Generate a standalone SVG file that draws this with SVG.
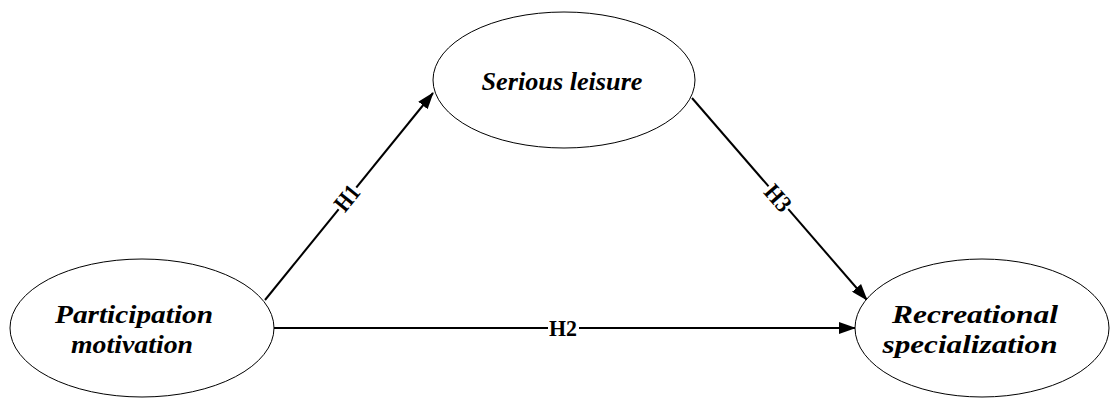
<svg xmlns="http://www.w3.org/2000/svg" width="1111" height="399" viewBox="0 0 1111 399">
<style>
.node ellipse{fill:#fff;stroke:#000;stroke-width:1}
.node text{font-family:"Liberation Serif","Times New Roman",serif;font-weight:bold;font-style:italic;font-size:26px;text-anchor:middle;fill:#000}
.edge line{stroke:#000;stroke-width:2}
.lbl{font-family:"Liberation Serif","Times New Roman",serif;font-weight:bold;font-size:24px;text-anchor:middle;dominant-baseline:central;fill:#000}
.bg{fill:#fff}
</style>
<defs>
<marker id="arr" markerWidth="17" markerHeight="12" refX="16" refY="6" orient="auto" markerUnits="userSpaceOnUse">
<path d="M0,0 L17,6 L0,12 Z" fill="#000"/>
</marker>
</defs>
<g id="connectors">
<g class="edge" id="e-h1">
<line x1="265" y1="300" x2="433" y2="93" marker-end="url(#arr)"/>
<g transform="translate(347,198) rotate(-51)"><rect class="bg" x="-14" y="-10" width="28" height="20"/><text class="lbl" x="0" y="0" textLength="26" lengthAdjust="spacingAndGlyphs">H1</text></g>
</g>
<g class="edge" id="e-h2">
<line x1="274" y1="328" x2="855" y2="328" marker-end="url(#arr)"/>
<rect class="bg" x="548" y="318" width="31" height="20"/><text class="lbl" x="563" y="328" textLength="28" lengthAdjust="spacingAndGlyphs">H2</text>
</g>
<g class="edge" id="e-h3">
<line x1="692" y1="98" x2="867" y2="300" marker-end="url(#arr)"/>
<g transform="translate(778,198) rotate(49)"><rect class="bg" x="-15" y="-10" width="30" height="20"/><text class="lbl" x="0" y="0" textLength="28" lengthAdjust="spacingAndGlyphs">H3</text></g>
</g>
</g>
<g class="node" id="n-serious">
<ellipse cx="564" cy="80" rx="131" ry="68"/>
<text x="562" y="90" textLength="161" lengthAdjust="spacingAndGlyphs">Serious leisure</text>
</g>
<g class="node" id="n-participation">
<ellipse cx="142" cy="328" rx="132" ry="69"/>
<text x="134" y="323" textLength="158" lengthAdjust="spacingAndGlyphs">Participation</text>
<text x="132" y="353" textLength="122" lengthAdjust="spacingAndGlyphs">motivation</text>
</g>
<g class="node" id="n-recreational">
<ellipse cx="982" cy="328" rx="127" ry="69"/>
<text x="975" y="323" textLength="166" lengthAdjust="spacingAndGlyphs">Recreational</text>
<text x="970" y="353" textLength="175" lengthAdjust="spacingAndGlyphs">specialization</text>
</g>
</svg>
